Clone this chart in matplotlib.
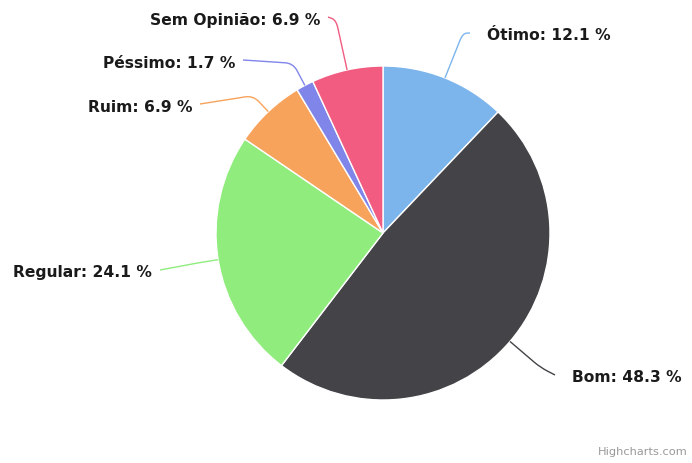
import numpy as np
import matplotlib.pyplot as plt
from matplotlib.path import Path
from matplotlib.patches import PathPatch

# data
labels = ["Ótimo", "Bom", "Regular", "Ruim", "Péssimo", "Sem Opinião"]
values = [12.1, 48.3, 24.1, 6.9, 1.7, 6.9]
colors = ["#7cb5ec", "#434348", "#90ed7d", "#f7a35c", "#8085e9", "#f15c80"]

# layout (pixel space, y measured from top)
W, H = 692, 463
cx, cy, r = 383, 233, 167
label_pos = [(487, 36), (572, 378), (152, 273), (192, 107), (235, 63), (320, 20)]
break_dist = [48, 40, 20, 22, 25, 51]

fig = plt.figure(figsize=(W / 100, H / 100), dpi=100)
ax = fig.add_axes([0, 0, 1, 1])

ax.pie(values, colors=colors, center=(cx, H - cy), radius=r, startangle=90,
       counterclock=False, wedgeprops=dict(edgecolor="white", linewidth=1))
ax.set_xlim(0, W)
ax.set_ylim(0, H)
ax.set_aspect("equal")
ax.axis("off")

total = sum(values)
start = 0.0
for lab, val, col, (lx, ly), bd in zip(labels, values, colors, label_pos, break_dist):
    mid = np.radians((start + val / 2) / total * 360)
    start += val
    dx, dy = np.sin(mid), np.cos(mid)
    p0 = np.array([cx + r * dx, H - (cy - r * dy)])
    pb = np.array([cx + (r + bd) * dx, H - (cy - (r + bd) * dy)])
    right = dx > 0
    gap = 17 if right else 8
    pe = np.array([lx - gap if right else lx + gap, H - (ly - 3)])
    # rounded corner at the break point
    a = pb + (p0 - pb) / max(np.linalg.norm(p0 - pb), 1e-9) * min(8, np.linalg.norm(p0 - pb) / 2)
    b = pb + (pe - pb) / max(np.linalg.norm(pe - pb), 1e-9) * min(8, np.linalg.norm(pe - pb) / 2)
    path = Path([p0, a, pb, b, pe],
                [Path.MOVETO, Path.LINETO, Path.CURVE3, Path.CURVE3, Path.LINETO])
    ax.add_patch(PathPatch(path, facecolor="none", edgecolor=col, linewidth=1))
    ax.text(lx, H - ly, f"{lab}: {val:.1f} %", ha="left" if right else "right",
            va="center", fontsize=11.2, fontweight="bold", color="#1a1a1a")

ax.text(688, H - 452, "Highcharts.com", ha="right", va="center",
        fontsize=8.2, color="#999999")

fig.savefig("out.png", dpi=100)
